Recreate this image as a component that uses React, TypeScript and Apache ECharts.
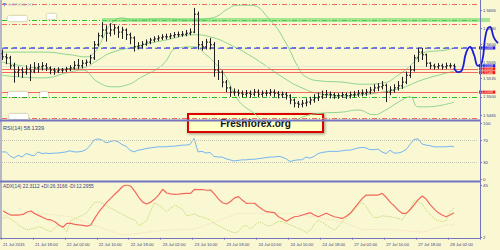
import React, { useEffect, useRef } from 'react';
import * as echarts from 'echarts';

// ---------- categories / ticks ----------
const TIME_LABELS = ['21 Jul 2015', '21 Jul 18:00', '22 Jul 02:00', '22 Jul 10:00', '22 Jul 18:00', '23 Jul 02:00', '23 Jul 10:00', '23 Jul 18:00', '24 Jul 02:00', '24 Jul 10:00', '24 Jul 18:00', '27 Jul 02:00', '27 Jul 10:00', '27 Jul 18:00', '28 Jul 02:00'];
const LABEL_STEP = 8;
const SLOTS = 120;
const PROJ_SLOTS = 125;
const PRICE_TICKS = [1.5665, 1.563, 1.56, 1.5565, 1.5535, 1.55, 1.5465];
const RSI_TICKS = [100, 70, 30, 0];
const RSI_LEVELS = [70, 30];
const ADX_TICKS = [45, 2];

// ---------- price bars (H1) ----------
const OPENS = [1.5582, 1.5576, 1.5574, 1.5559, 1.5547, 1.5551, 1.5547, 1.5553, 1.5549, 1.5555,
  1.5557, 1.5559, 1.5555, 1.5551, 1.5549, 1.5551, 1.5551, 1.5553, 1.5555, 1.5560,
  1.5559, 1.5564, 1.5566, 1.5574, 1.5599, 1.5616, 1.5627, 1.5621, 1.5627, 1.5631,
  1.5623, 1.5627, 1.5618, 1.5612, 1.5595, 1.5597, 1.5600, 1.5604, 1.5608, 1.5610,
  1.5612, 1.5614, 1.5614, 1.5616, 1.5618, 1.5618, 1.5619, 1.5621, 1.5623, 1.5657,
  1.5599, 1.5595, 1.5604, 1.5599, 1.5551, 1.5547, 1.5528, 1.5517, 1.5509, 1.5509,
  1.5507, 1.5505, 1.5507, 1.5505, 1.5509, 1.5505, 1.5507, 1.5507, 1.5509, 1.5507,
  1.5504, 1.5505, 1.5502, 1.5494, 1.5488, 1.5486, 1.5488, 1.5490, 1.5494, 1.5498,
  1.5500, 1.5504, 1.5505, 1.5504, 1.5502, 1.5502, 1.5504, 1.5502, 1.5504, 1.5505,
  1.5507, 1.5507, 1.5509, 1.5513, 1.5517, 1.5519, 1.5522, 1.5509, 1.5513, 1.5517,
  1.5521, 1.5528, 1.5541, 1.5551, 1.5574, 1.5585, 1.5580, 1.5564, 1.5559, 1.5557,
  1.5559, 1.5557, 1.5559, 1.5559];
const HIGHS = [1.5590, 1.5582, 1.5578, 1.5565, 1.5558, 1.5556, 1.5560, 1.5562, 1.5566, 1.5564,
  1.5566, 1.5564, 1.5558, 1.5555, 1.5556, 1.5555, 1.5557, 1.5560, 1.5568, 1.5572,
  1.5570, 1.5571, 1.5580, 1.5606, 1.5622, 1.5642, 1.5636, 1.5640, 1.5638, 1.5635,
  1.5633, 1.5630, 1.5622, 1.5615, 1.5604, 1.5606, 1.5609, 1.5612, 1.5615, 1.5617,
  1.5619, 1.5620, 1.5621, 1.5623, 1.5624, 1.5625, 1.5627, 1.5630, 1.5669, 1.5662,
  1.5606, 1.5610, 1.5612, 1.5604, 1.5570, 1.5550, 1.5532, 1.5520, 1.5516, 1.5514,
  1.5512, 1.5513, 1.5512, 1.5515, 1.5514, 1.5512, 1.5513, 1.5515, 1.5514, 1.5511,
  1.5510, 1.5509, 1.5505, 1.5497, 1.5492, 1.5494, 1.5497, 1.5500, 1.5505, 1.5508,
  1.5512, 1.5513, 1.5510, 1.5508, 1.5507, 1.5509, 1.5508, 1.5510, 1.5511, 1.5513,
  1.5514, 1.5515, 1.5519, 1.5524, 1.5526, 1.5530, 1.5525, 1.5520, 1.5524, 1.5530,
  1.5538, 1.5548, 1.5559, 1.5580, 1.5593, 1.5593, 1.5582, 1.5566, 1.5563, 1.5564,
  1.5563, 1.5565, 1.5564, 1.5563];
const LOWS = [1.5570, 1.5562, 1.5553, 1.5527, 1.5538, 1.5536, 1.5542, 1.5530, 1.5545, 1.5546,
  1.5550, 1.5549, 1.5543, 1.5542, 1.5545, 1.5546, 1.5547, 1.5549, 1.5552, 1.5553,
  1.5554, 1.5558, 1.5562, 1.5570, 1.5596, 1.5612, 1.5605, 1.5615, 1.5618, 1.5612,
  1.5610, 1.5608, 1.5600, 1.5586, 1.5590, 1.5592, 1.5597, 1.5600, 1.5604, 1.5606,
  1.5608, 1.5609, 1.5610, 1.5612, 1.5613, 1.5614, 1.5615, 1.5617, 1.5621, 1.5590,
  1.5588, 1.5590, 1.5590, 1.5538, 1.5532, 1.5518, 1.5509, 1.5500, 1.5502, 1.5501,
  1.5499, 1.5500, 1.5498, 1.5501, 1.5499, 1.5500, 1.5501, 1.5502, 1.5500, 1.5497,
  1.5498, 1.5495, 1.5486, 1.5480, 1.5479, 1.5480, 1.5482, 1.5485, 1.5489, 1.5492,
  1.5496, 1.5498, 1.5497, 1.5496, 1.5496, 1.5498, 1.5496, 1.5497, 1.5499, 1.5500,
  1.5501, 1.5502, 1.5505, 1.5509, 1.5511, 1.5514, 1.5490, 1.5503, 1.5508, 1.5512,
  1.5515, 1.5524, 1.5536, 1.5548, 1.5566, 1.5570, 1.5557, 1.5553, 1.5552, 1.5553,
  1.5552, 1.5553, 1.5554, 1.5553];
const CLOSES = [1.5576, 1.5574, 1.5559, 1.5547, 1.5551, 1.5547, 1.5553, 1.5549, 1.5555, 1.5557,
  1.5559, 1.5555, 1.5551, 1.5549, 1.5551, 1.5551, 1.5553, 1.5555, 1.5560, 1.5559,
  1.5564, 1.5566, 1.5574, 1.5599, 1.5616, 1.5627, 1.5621, 1.5627, 1.5631, 1.5623,
  1.5627, 1.5618, 1.5612, 1.5595, 1.5597, 1.5600, 1.5604, 1.5608, 1.5610, 1.5612,
  1.5614, 1.5614, 1.5616, 1.5618, 1.5618, 1.5619, 1.5621, 1.5623, 1.5657, 1.5599,
  1.5595, 1.5604, 1.5599, 1.5551, 1.5547, 1.5528, 1.5517, 1.5509, 1.5509, 1.5507,
  1.5505, 1.5507, 1.5505, 1.5509, 1.5505, 1.5507, 1.5507, 1.5509, 1.5507, 1.5504,
  1.5505, 1.5502, 1.5494, 1.5488, 1.5486, 1.5488, 1.5490, 1.5494, 1.5498, 1.5500,
  1.5504, 1.5505, 1.5504, 1.5502, 1.5502, 1.5504, 1.5502, 1.5504, 1.5505, 1.5507,
  1.5507, 1.5509, 1.5513, 1.5517, 1.5519, 1.5522, 1.5509, 1.5513, 1.5517, 1.5521,
  1.5528, 1.5541, 1.5551, 1.5574, 1.5585, 1.5580, 1.5564, 1.5559, 1.5557, 1.5559,
  1.5557, 1.5559, 1.5559, 1.5557];

// ---------- bands (bar index, price) ----------
const BB_UPPER = [[0, 1.5585], [10, 1.5585], [17, 1.5580], [21, 1.5576], [23, 1.5583], [25, 1.5608], [27, 1.5636], [30, 1.5650], [33, 1.5646], [40, 1.5648], [48, 1.5646], [51, 1.5648], [54, 1.5654], [56, 1.5665], [59, 1.5674], [62, 1.5674], [67, 1.5646], [71, 1.5602], [74, 1.5557], [76, 1.5538], [80, 1.5530], [85, 1.5528], [90, 1.5524], [95, 1.5526], [99, 1.5541], [103, 1.5566], [105, 1.5583], [111, 1.5589], [113, 1.5593]];
const BB_MIDDLE = [[0, 1.5566], [5, 1.5559], [12, 1.5553], [20, 1.5555], [24, 1.5570], [27, 1.5583], [33, 1.5595], [41, 1.5608], [48, 1.5618], [53, 1.5612], [57, 1.5599], [61, 1.5583], [65, 1.5564], [70, 1.5538], [75, 1.5517], [80, 1.5505], [85, 1.5502], [90, 1.5504], [95, 1.5509], [100, 1.5517], [105, 1.5532], [110, 1.5543], [113, 1.5549]];
const BB_LOWER = [[0, 1.5541], [10, 1.5536], [17, 1.5547], [20, 1.5551], [24, 1.5528], [28, 1.5519], [31, 1.5522], [35, 1.5538], [40, 1.5560], [44, 1.5593], [48, 1.5595], [51, 1.5580], [53, 1.5566], [56, 1.5538], [59, 1.5494], [63, 1.5469], [67, 1.5448], [72, 1.5452], [76, 1.5464], [80, 1.5469], [85, 1.5471], [89, 1.5475], [93, 1.5466], [95, 1.5471], [100, 1.5494], [102, 1.5500], [104, 1.5481], [106, 1.5481], [113, 1.5490]];

// ---------- drawn forecast (bar index, price) ----------
const PROJECTION = [[113, 1.5555], [114, 1.5547], [115, 1.5551], [116, 1.5583], [117, 1.5595], [118, 1.5580], [119, 1.5559], [120, 1.5566], [121, 1.5621], [122, 1.5633], [123, 1.5612], [124, 1.5602]];

// ---------- horizontal levels ----------
const RED_DASHDOT_LEVELS = [1.5676, 1.5638, 1.5459];
const GREEN_DASHDOT_LEVELS = [1.5646, 1.5499];
const RED_SOLID_LEVELS = [1.5553, 1.5546, 1.5509];
const RED_SOLID_TAGS = ['1.5553', '1.5546', '1.5509'];
const BLUE_DASH_LEVEL = 1.5593;
const BLUE_DASH_TAG = '1.5593';
const BID_LEVEL = 1.5559;
const BID_TAG = '1.5559';
const SUPPORT_ZONE = { level: 1.5646, from: 25, to: 122 };

// ---------- indicators ----------
const RSI = [49, 49, 42, 38, 43, 40, 46, 44, 42, 49,
  46, 47, 46, 47, 47, 48, 49, 51, 49, 49,
  50, 53, 60, 70, 72, 70, 65, 67, 69, 67,
  62, 59, 52, 49, 52, 53, 55, 56, 57, 58,
  58, 58, 59, 59, 60, 61, 61, 62, 73, 49,
  50, 47, 48, 41, 40, 40, 37, 35, 33, 34,
  35, 35, 36, 36, 37, 38, 39, 40, 40, 41,
  40, 37, 32, 34, 35, 35, 40, 38, 41, 46,
  48, 49, 50, 50, 50, 51, 52, 52, 54, 56,
  57, 56, 53, 53, 54, 49, 46, 52, 47, 47,
  49, 53, 62, 71, 72, 63, 61, 60, 58, 58,
  58, 58, 59, 58.1];
const ADX = [24, 22, 20.5, 20.5, 20.5, 21, 23, 23.8, 21.5, 20,
  18.5, 17, 16.5, 15, 12.4, 10.5, 13.7, 13.7, 12.9, 12.4,
  12, 11.5, 12.4, 18, 23, 27, 31, 34.1, 37.5, 40.5,
  44, 45, 44, 40, 35, 31, 29.5, 31, 33.5, 37,
  41.5, 38.5, 37.8, 37.4, 37.6, 38, 38.2, 38.2, 41.5, 41.3,
  41.3, 40.7, 40.9, 37.5, 33.5, 30.5, 29.5, 31.5, 34.5, 35.5,
  32.5, 30, 30.1, 30.1, 27.5, 25, 23.2, 22.8, 22.4, 19.1,
  17.5, 15.5, 17.5, 19.1, 19.5, 20.5, 21.5, 22.4, 20.5, 19.1,
  20.5, 21.9, 20.5, 19.1, 18.5, 17.6, 19.5, 21.9, 26, 30.1,
  34, 36.8, 36.8, 36.8, 36.8, 38.2, 35, 31, 28, 24.5,
  21.9, 21.9, 25, 28.7, 33, 36, 33.5, 29, 25.5, 22.5,
  20.5, 19.1, 20.5, 22.3];
const PLUS_DI = [17.8, 19, 17, 15, 12, 10, 8.5, 9, 9.7, 11,
  10, 8, 7, 10, 12.4, 11, 7, 16, 17.5, 19,
  20.5, 22.5, 27, 31, 31, 30, 28, 26, 24.5, 22.5,
  21, 19, 17.5, 16.4, 12, 13.5, 16, 24, 30.5, 28.5,
  26, 23.2, 26, 28.5, 27, 25, 20, 20.5, 21.5, 19.5,
  19, 17.5, 16.4, 13.5, 12, 10, 8.3, 7, 6, 7,
  11, 12, 9, 12, 14.5, 14, 12, 11.5, 13.5, 15.1,
  15.1, 13.5, 12.4, 11, 9.7, 8, 6, 8, 13, 16.4,
  14.5, 12.4, 10, 8.3, 11, 15, 17.8, 21, 24.5, 28.5,
  31, 27.3, 22, 18.5, 18.5, 19.8, 19.5, 19.1, 18.5, 17.8,
  16.4, 21, 24.6, 32, 31.5, 29.5, 24.5, 21, 17.5, 16,
  15.1, 16, 23, 26.3];
const MINUS_DI = [[0, 20], [8, 22], [15, 20], [17, 19], [23, 12], [30, 4], [40, 8], [48, 9], [53, 15], [59, 22], [67, 22], [72, 22], [78, 19], [85, 15], [90, 8.5], [96, 9], [105, 6.5], [111, 12.4], [113, 12.3]];

// ---------- colours ----------
const BG = '#faf8d3';
const FRAME = '#7474c0';
const AXIS_TEXT = '#3c3c7c';
const BAR_COLOR = '#1e1e1e';
const BAND_COLOR = '#8ed48e';
const RED = '#f06a60';
const GREEN_DD = '#28c028';
const FONT = 'Liberation Sans, Arial, sans-serif';

const cats = Array.from({ length: SLOTS }, (_, i) => String(i));
const projCats = Array.from({ length: PROJ_SLOTS }, (_, i) => String(i));
const ohlc = CLOSES.map((c, i) => [i, OPENS[i], HIGHS[i], LOWS[i], c]);
const LAST = SLOTS - 1;

const tag = (text: string, bg: string) => ({
  show: true, position: 'end', formatter: text, distance: 1,
  backgroundColor: bg, color: '#ffffff', fontSize: 3.7, lineHeight: 3.1, fontFamily: FONT,
  padding: [0, 2.5, 0, 2.5],
});

const hLine = (v: number, lineStyle: any, label?: any) => [
  { coord: [0, v], lineStyle, label: label || { show: false } },
  { coord: [LAST, v] },
];

const levelLines: any[] = [
  ...RED_DASHDOT_LEVELS.map((v) => hLine(v, { color: RED, type: [5, 2, 1, 2], width: 1 })),
  ...GREEN_DASHDOT_LEVELS.map((v) => hLine(v, { color: GREEN_DD, type: [5, 2, 1, 2], width: 1 })),
  hLine(BID_LEVEL, { color: '#e6e5d6', type: 'solid', width: 1 }, tag(BID_TAG, '#1c1cdc')),
  ...RED_SOLID_LEVELS.map((v, k) => hLine(v, { color: RED, type: 'solid', width: 1 }, tag(RED_SOLID_TAGS[k], '#f01818'))),
  hLine(BLUE_DASH_LEVEL, { color: '#4444e6', type: [6, 3], width: 1.5 }, tag(BLUE_DASH_TAG, '#1c1cdc')),
  hLine(BLUE_DASH_LEVEL + 0.00006, { color: '#a6e080', type: [2, 7], width: 1 }),
];

const option: any = {
  animation: false,
  backgroundColor: BG,
  textStyle: { fontFamily: FONT },
  grid: [
    { left: 0, right: 20, top: 0, height: 120 },
    { left: 0, right: 0, top: 0, height: 120 },
    { left: 0, right: 20, top: 123, height: 56.7 },
    { left: 0, right: 20, top: 185, height: 52.7 },
  ],
  xAxis: [
    { type: 'category', gridIndex: 0, data: cats, show: false },
    { type: 'category', gridIndex: 1, data: projCats, show: false },
    { type: 'category', gridIndex: 2, data: cats, show: false },
    {
      type: 'category', gridIndex: 3, data: cats,
      axisLine: { show: false },
      axisTick: { show: true, interval: (i: number) => i % LABEL_STEP === 0 && i / LABEL_STEP < TIME_LABELS.length, length: 2, lineStyle: { color: FRAME } },
      axisLabel: {
        interval: (i: number) => i % LABEL_STEP === 0 && i / LABEL_STEP < TIME_LABELS.length,
        formatter: (_v: string, i: number) => TIME_LABELS[i / LABEL_STEP] ?? '',
        align: 'left', fontSize: 4.2, color: AXIS_TEXT, margin: 5, fontFamily: FONT,
      },
      splitLine: { show: false },
    },
  ],
  yAxis: [
    {
      type: 'value', gridIndex: 0, position: 'right', min: 1.5456, max: 1.5684,
      axisLine: { show: false }, splitLine: { show: false },
      axisTick: { show: true, customValues: PRICE_TICKS, length: 2, lineStyle: { color: FRAME } },
      axisLabel: { customValues: PRICE_TICKS, formatter: (v: number) => v.toFixed(4), fontSize: 4.2, lineHeight: 2.9, color: AXIS_TEXT, margin: 3, fontFamily: FONT },
    },
    { type: 'value', gridIndex: 1, min: 1.5456, max: 1.5684, show: false },
    {
      type: 'value', gridIndex: 2, position: 'right', min: 0, max: 100,
      axisLine: { show: false }, splitLine: { show: false },
      axisTick: { show: true, customValues: RSI_TICKS, length: 2, lineStyle: { color: FRAME } },
      axisLabel: { customValues: RSI_TICKS, fontSize: 4.4, color: AXIS_TEXT, margin: 3, fontFamily: FONT },
    },
    {
      type: 'value', gridIndex: 3, position: 'right', min: 2, max: 45,
      axisLine: { show: false }, splitLine: { show: false },
      axisTick: { show: true, customValues: ADX_TICKS, length: 2, lineStyle: { color: FRAME } },
      axisLabel: { customValues: ADX_TICKS, fontSize: 4.4, color: AXIS_TEXT, margin: 3, fontFamily: FONT },
    },
  ],
  series: [
    {
      type: 'line', name: 'bbM', xAxisIndex: 0, yAxisIndex: 0, data: BB_MIDDLE, smooth: 0.5, showSymbol: false,
      lineStyle: { color: BAND_COLOR, width: 1 }, z: 3,
      markLine: { silent: true, symbol: ['none', 'none'], label: { show: false }, data: levelLines },
    },
    { type: 'line', name: 'bbU', xAxisIndex: 0, yAxisIndex: 0, data: BB_UPPER, smooth: 0.5, showSymbol: false, lineStyle: { color: BAND_COLOR, width: 1 }, z: 3 },
    { type: 'line', name: 'bbL', xAxisIndex: 0, yAxisIndex: 0, data: BB_LOWER, smooth: 0.5, showSymbol: false, lineStyle: { color: BAND_COLOR, width: 1 }, z: 3 },
    {
      type: 'custom', name: 'bars', xAxisIndex: 0, yAxisIndex: 0, data: ohlc, encode: { x: 0, y: [1, 2, 3, 4] }, z: 5,
      renderItem: (_p: any, api: any) => {
        const i = api.value(0);
        const o = api.coord([i, api.value(1)]);
        const h = api.coord([i, api.value(2)]);
        const l = api.coord([i, api.value(3)]);
        const c = api.coord([i, api.value(4)]);
        const x = Math.round(h[0]) + 0.5;
        const st = { stroke: BAR_COLOR, lineWidth: 1 };
        return {
          type: 'group', children: [
            { type: 'line', shape: { x1: x, y1: h[1], x2: x, y2: l[1] }, style: st },
            { type: 'line', shape: { x1: x - 1.5, y1: o[1], x2: x, y2: o[1] }, style: st },
            { type: 'line', shape: { x1: x, y1: c[1], x2: x + 1.5, y2: c[1] }, style: st },
          ],
        };
      },
    },
    {
      type: 'line', name: 'forecast', xAxisIndex: 1, yAxisIndex: 1, data: PROJECTION, smooth: 0.45, showSymbol: false,
      lineStyle: { color: '#1c1cd6', width: 1.8 }, z: 12,
      markLine: {
        silent: true, symbol: ['none', 'none'], label: { show: false },
        data: [[{ coord: [SUPPORT_ZONE.from, SUPPORT_ZONE.level] }, { coord: [SUPPORT_ZONE.to, SUPPORT_ZONE.level] }]],
        lineStyle: { color: 'rgba(96,214,96,0.55)', width: 4, type: 'solid' },
      },
    },
    {
      type: 'line', name: 'rsi', xAxisIndex: 2, yAxisIndex: 2, data: RSI, showSymbol: false,
      lineStyle: { color: '#74b6f0', width: 1 },
      markLine: {
        silent: true, symbol: ['none', 'none'], label: { show: false },
        data: RSI_LEVELS.map((v) => [{ coord: [0, v] }, { coord: [LAST, v] }]),
        lineStyle: { color: '#c8c6b4', type: 'dotted', width: 1 },
      },
    },
    { type: 'line', name: '-di', xAxisIndex: 3, yAxisIndex: 3, data: MINUS_DI, showSymbol: false, lineStyle: { color: '#f2dcbc', width: 1, type: 'dotted' } },
    { type: 'line', name: '+di', xAxisIndex: 3, yAxisIndex: 3, data: PLUS_DI, showSymbol: false, lineStyle: { color: '#bcd66c', width: 1, type: 'dotted' } },
    { type: 'line', name: 'adx', xAxisIndex: 3, yAxisIndex: 3, data: ADX, showSymbol: false, lineStyle: { color: '#f2675a', width: 1.2 } },
  ],
  graphic: [
    // frame
    { type: 'line', shape: { x1: 480.5, y1: 0, x2: 480.5, y2: 239 }, style: { stroke: FRAME, lineWidth: 1 }, z: 50 },
    { type: 'line', shape: { x1: 1, y1: 0, x2: 1, y2: 239 }, style: { stroke: FRAME, lineWidth: 1 }, z: 50 },
    { type: 'line', shape: { x1: 0, y1: 120.5, x2: 481, y2: 120.5 }, style: { stroke: FRAME, lineWidth: 2 }, z: 50 },
    { type: 'line', shape: { x1: 0, y1: 181.5, x2: 481, y2: 181.5 }, style: { stroke: FRAME, lineWidth: 2 }, z: 50 },
    { type: 'line', shape: { x1: 0, y1: 238.5, x2: 481, y2: 238.5 }, style: { stroke: FRAME, lineWidth: 1 }, z: 50 },
    // object labels on the left
    { type: 'rect', shape: { x: 8, y: 16, width: 19, height: 5, r: 1 }, style: { fill: '#ffffff', shadowBlur: 2, shadowColor: 'rgba(0,0,0,0.35)' }, z: 40 },
    { type: 'rect', shape: { x: 47, y: 14, width: 9, height: 5, r: 1 }, style: { fill: '#ffffff', shadowBlur: 2, shadowColor: 'rgba(0,0,0,0.35)' }, z: 40 },
    { type: 'rect', shape: { x: 8, y: 92, width: 20, height: 5, r: 1 }, style: { fill: '#ffffff', shadowBlur: 2, shadowColor: 'rgba(0,0,0,0.35)' }, z: 40 },
    { type: 'rect', shape: { x: 40, y: 92, width: 8, height: 5, r: 1 }, style: { fill: '#ffffff', shadowBlur: 2, shadowColor: 'rgba(0,0,0,0.35)' }, z: 40 },
    { type: 'rect', shape: { x: 9, y: 114, width: 19, height: 5, r: 1 }, style: { fill: '#ffffff', shadowBlur: 2, shadowColor: 'rgba(0,0,0,0.35)' }, z: 40 },
    // captions
    { type: 'polygon', shape: { points: [[2.5, 3], [6.5, 3], [4.5, 6.5]] }, style: { fill: '#7a8ad8' }, z: 40 },
    { type: 'text', x: 8, y: 2.5, style: { text: 'GBPUSD,H1', fontSize: 4.4, fill: '#b4b4d4', fontFamily: FONT }, z: 40 },
    { type: 'text', x: 3, y: 124.5, style: { text: 'RSI(14) 58.1339', fontSize: 5.6, fill: AXIS_TEXT, fontFamily: FONT }, z: 40 },
    { type: 'text', x: 3, y: 184, style: { text: 'ADX(14) 22.3112 +DI:26.3166 -DI:12.2955', fontSize: 4.8, fill: AXIS_TEXT, fontFamily: FONT }, z: 40 },
    // watermark box
    {
      type: 'group', z: 60, children: [
        { type: 'rect', shape: { x: 188, y: 114, width: 135, height: 18 }, style: { fill: '#ffffc8', stroke: '#e00000', lineWidth: 2, shadowBlur: 3, shadowOffsetX: 1, shadowOffsetY: 1, shadowColor: 'rgba(0,0,0,0.4)' } },
        { type: 'text', x: 255.5, y: 123, style: { text: 'Freshforex.org', fontSize: 10, fontWeight: 'bold', fill: '#111111', fontFamily: FONT, align: 'center', verticalAlign: 'middle' } },
      ],
    },
  ],
};

export default function App() {
  const ref = useRef<HTMLDivElement>(null);
  useEffect(() => {
    if (!ref.current) return;
    const chart = echarts.init(ref.current, undefined, { renderer: 'svg' });
    chart.setOption(option);
    return () => chart.dispose();
  }, []);
  return <div ref={ref} style={{ position: 'absolute', left: 0, top: 0, width: 500, height: 250 }} />;
}
